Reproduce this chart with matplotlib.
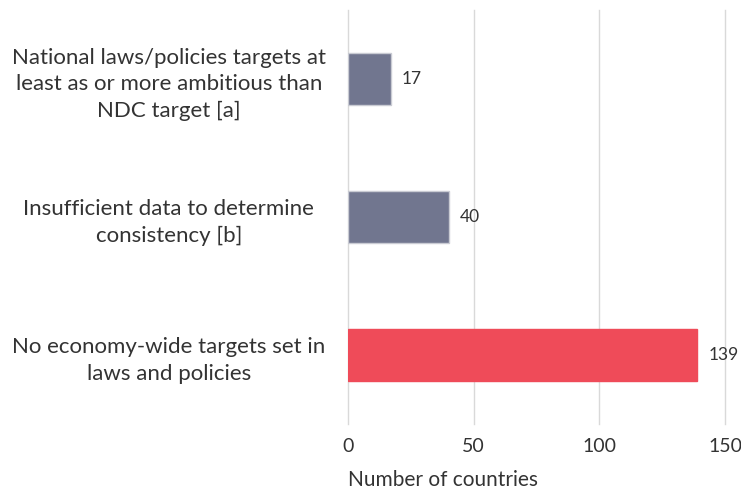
import matplotlib
matplotlib.use("Agg")
import matplotlib.pyplot as plt

categories = [
    "National laws/policies targets at\nleast as or more ambitious than\nNDC target [a]",
    "Insufficient data to determine\nconsistency [b]",
    "No economy-wide targets set in\nlaws and policies",
]
values = [17, 40, 139]
colors = ["#71768F", "#71768F", "#EF4B59"]
edge_colors = ["#C9CBD3", "#C9CBD3", "#EF4B59"]
xticks = [0, 50, 100, 150]

plt.rcParams['font.family'] = ['Lato', 'DejaVu Sans']
text_color = "#333333"

fig = plt.figure(figsize=(7.41, 4.95), dpi=100)
ax = fig.add_axes([0.4696, 0.1434, 0.5088, 0.8364])

ypos = list(range(len(categories)))
bars = ax.barh(ypos, values, height=0.37, color=colors, edgecolor=edge_colors,
               linewidth=1.0, zorder=3)
for b, v in zip(bars, values):
    ax.annotate(str(v), (b.get_width(), b.get_y() + b.get_height() / 2),
                xytext=(8, 0), textcoords="offset points", va="center", ha="left",
                fontsize=12.5, color=text_color)

ax.set_ylim(2.5, -0.5)
ax.set_xlim(0, 150)
ax.set_xticks(xticks)
ax.set_xticklabels([str(t) for t in xticks])
ax.set_yticks(ypos)
ax.set_yticklabels(categories, ha="center", fontsize=16, color=text_color,
                   linespacing=1.42)
ax.tick_params(axis="y", length=0, pad=129)
ax.tick_params(axis="x", length=0, pad=10, labelsize=14, labelcolor=text_color)
ax.xaxis.grid(True, color="#D9D9D9", linewidth=1.0, zorder=0)
ax.set_axisbelow(True)
for gl in ax.get_xgridlines():
    gl.set_clip_on(False)
for s in ax.spines.values():
    s.set_visible(False)
ax.set_xlabel("Number of countries", fontsize=15, color=text_color, loc="left",
              labelpad=11)

fig.savefig("out.png", dpi=100)
